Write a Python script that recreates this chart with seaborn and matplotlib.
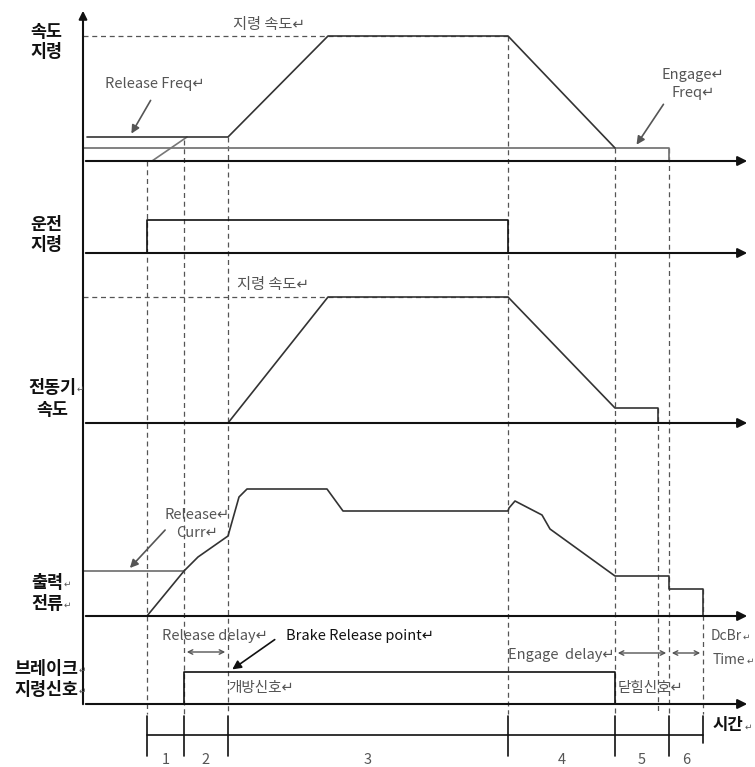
import matplotlib
matplotlib.use('Agg')
import matplotlib.pyplot as plt
import seaborn as sns

# --- 타이밍 데이터 (그림에서 읽은 값, x=시간축 위치, y=화면 위치) ---
t_edges = [147, 184, 228, 508, 615, 669, 703]
seg_labels = ['1', '2', '3', '4', '5', '6']

baselines = [161, 253, 423, 616, 704]

cmd_x = [87, 228, 328, 508, 615]
cmd_y = [137, 137, 36, 36, 148]
engage_x = [83, 669, 669]
engage_y = [148, 148, 161]
rel_ramp_x = [152, 187]
rel_ramp_y = [161, 137]

run_x = [147, 147, 508, 508]
run_y = [253, 220, 220, 253]

motor_x = [228, 328, 508, 615, 615, 658, 658]
motor_y = [423, 297, 297, 408, 408, 408, 423]

rel_curr_x = [83, 184]
rel_curr_y = [571, 571]
cur_x = [147, 184, 198, 228, 239, 247, 327, 343, 508, 509, 515, 542, 550, 615, 669, 669, 703, 703]
cur_y = [616, 571, 557, 536, 497, 489, 489, 511, 511, 508, 501, 515, 529, 576, 576, 589, 589, 616]

brake_x = [184, 184, 615, 615]
brake_y = [704, 672, 672, 704]

# 점선 (x, 시작 y)
guide_x = [147, 184, 228, 508, 615, 658, 669, 703]
guide_top = [161, 140, 137, 36, 148, 408, 148, 589]
ref_speed_y = [36, 297]

# 채널 이름: (글자, 중심 x, y, 줄바꿈표시 여부)
ch_lines = [
    ('속도', 46, 32, False), ('지령', 46, 52, False),
    ('운전', 46, 225, False), ('지령', 46, 245, False),
    ('전동기', 52, 388, True), ('속도', 52, 410, False),
    ('출력', 47, 583, True), ('전류', 47, 604, True),
    ('브레이크', 46, 669, True), ('지령신호', 46, 690, True),
]

sns.set_theme(style="white")
plt.rcParams['font.family'] = ['Noto Sans CJK KR', 'DejaVu Sans']

fig = plt.figure(figsize=(7.55, 7.67), dpi=100)
ax = fig.add_axes([0, 0, 1, 1])
ax.set_xlim(0, 755)
ax.set_ylim(767, 0)
ax.axis('off')

DARK = '#111111'
GRAY = '#777777'
TXT = '#555555'

fig.canvas.draw()
renderer = fig.canvas.get_renderer()
inv = ax.transData.inverted()


def add_mark(t, y):
    """텍스트 끝에 작은 줄바꿈 표시를 붙인다."""
    bb = t.get_window_extent(renderer)
    x_end = inv.transform((bb.x1, 0))[0]
    ax.text(x_end + 0.5, y + 1, '↵', ha='left', va='center', fontsize=6.5, color=TXT)


# 보조 점선
for gx, gt in zip(guide_x, guide_top):
    ax.plot([gx, gx], [gt, 714], color='#555555', lw=0.9, ls=(0, (4, 3)))
for ry in ref_speed_y:
    ax.plot([83, 508], [ry, ry], color='#555555', lw=0.9, ls=(0, (4, 3)))

# 축
for b in baselines:
    ax.annotate('', xy=(750, b), xytext=(83, b),
                arrowprops=dict(arrowstyle='-|>', color=DARK, lw=1.5, mutation_scale=14))
ax.annotate('', xy=(83, 8), xytext=(83, 707),
            arrowprops=dict(arrowstyle='-|>', color=DARK, lw=1.5, mutation_scale=12))

# 신호 파형
kw = dict(sort=False, estimator=None, ax=ax, legend=False)
sns.lineplot(x=engage_x, y=engage_y, color=GRAY, lw=1.3, **kw)
sns.lineplot(x=rel_ramp_x, y=rel_ramp_y, color=GRAY, lw=1.2, **kw)
sns.lineplot(x=cmd_x, y=cmd_y, color='#333333', lw=1.2, **kw)
sns.lineplot(x=run_x, y=run_y, color=DARK, lw=1.2, **kw)
sns.lineplot(x=motor_x, y=motor_y, color='#333333', lw=1.2, **kw)
sns.lineplot(x=rel_curr_x, y=rel_curr_y, color=GRAY, lw=1.3, **kw)
sns.lineplot(x=cur_x, y=cur_y, color='#333333', lw=1.2, **kw)
sns.lineplot(x=brake_x, y=brake_y, color=DARK, lw=1.2, **kw)

# 채널 이름
for lab, lx, ly, mark in ch_lines:
    t = ax.text(lx, ly, lab, ha='center', va='center', fontsize=12.5, fontweight='bold',
                color=DARK)
    if mark:
        add_mark(t, ly)

# 주석 텍스트
ax.text(233, 25, '지령 속도↵', fontsize=11, color=TXT, va='center')
ax.text(237, 285, '지령 속도↵', fontsize=11, color=TXT, va='center')
ax.text(105, 84, 'Release Freq↵', fontsize=10.5, color=TXT, va='center')
ax.annotate('', xy=(130, 136), xytext=(152, 98),
            arrowprops=dict(arrowstyle='-|>', color='#555555', lw=1.2, mutation_scale=12))
ax.text(693, 84, 'Engage↵\nFreq↵', fontsize=10.5, color=TXT, va='center', ha='center',
        linespacing=1.3)
ax.annotate('', xy=(635, 147), xytext=(665, 102),
            arrowprops=dict(arrowstyle='-|>', color='#555555', lw=1.2, mutation_scale=12))
ax.text(197, 524, 'Release↵\nCurr↵', fontsize=10.5, color=TXT, va='center', ha='center',
        linespacing=1.3)
ax.annotate('', xy=(128, 570), xytext=(167, 528),
            arrowprops=dict(arrowstyle='-|>', color='#555555', lw=1.2, mutation_scale=12))

ax.text(162, 636, 'Release delay↵', fontsize=10.5, color=TXT, va='center')
ax.annotate('', xy=(184, 652), xytext=(228, 652),
            arrowprops=dict(arrowstyle='<->', color='#555555', lw=1.0, mutation_scale=8))
ax.text(286, 636, 'Brake Release point↵', fontsize=10.5, color=DARK, va='center')
ax.annotate('', xy=(230, 671), xytext=(277, 638),
            arrowprops=dict(arrowstyle='-|>', color=DARK, lw=1.2, mutation_scale=13))
ax.text(228, 688, '개방신호↵', fontsize=10.5, color=TXT, va='center')

ax.text(508, 655, 'Engage  delay↵', fontsize=10.5, color=TXT, va='center')
ax.annotate('', xy=(615, 653), xytext=(669, 653),
            arrowprops=dict(arrowstyle='<->', color='#555555', lw=1.0, mutation_scale=8))
ax.annotate('', xy=(669, 653), xytext=(703, 653),
            arrowprops=dict(arrowstyle='<->', color='#555555', lw=1.0, mutation_scale=8))
t = ax.text(711, 636, 'DcBr', fontsize=10, color=TXT, va='center')
add_mark(t, 636)
t = ax.text(713, 660, 'Time', fontsize=10, color=TXT, va='center')
add_mark(t, 660)
ax.text(618, 688, '닫힘신호↵', fontsize=10.5, color=TXT, va='center')

# 시간 구간
ax.plot([t_edges[0], t_edges[-1]], [735, 735], color=DARK, lw=1.2)
for i, te in enumerate(t_edges):
    bottom = 743 if i == len(t_edges) - 1 else 756
    ax.plot([te, te], [716, bottom], color=DARK, lw=1.2)
for a, b, s in zip(t_edges[:-1], t_edges[1:], seg_labels):
    ax.text((a + b) / 2, 760, s, ha='center', va='center', fontsize=10.5, color=TXT)
t = ax.text(713, 725, '시간', fontsize=12, fontweight='bold', color=DARK, va='center')
add_mark(t, 726)

fig.savefig('out.png', dpi=100)
